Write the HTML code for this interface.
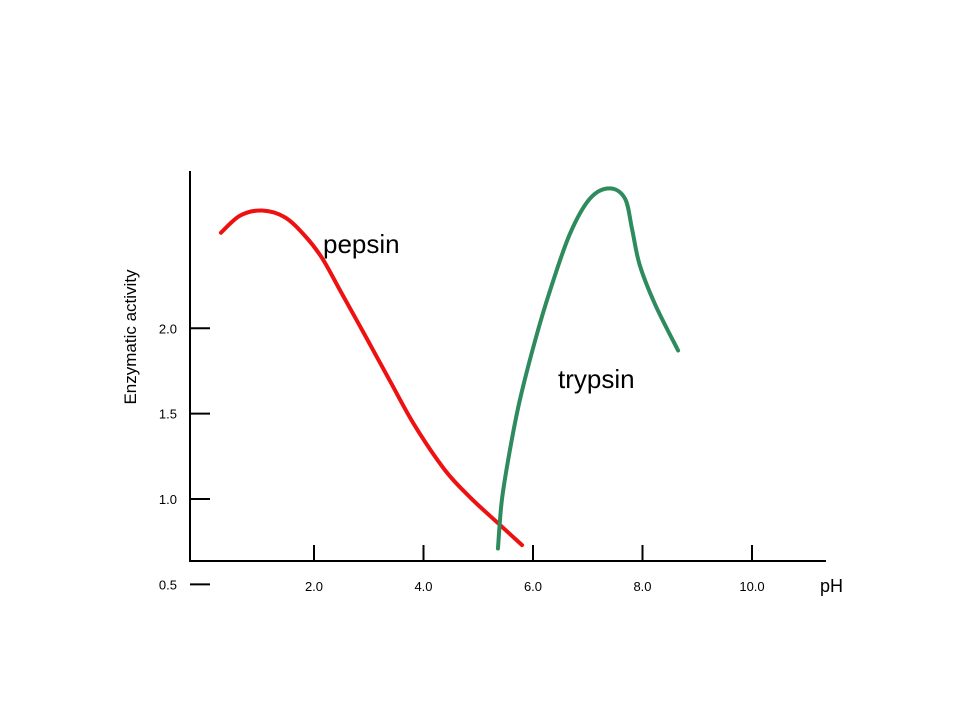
<!DOCTYPE html>
<html><head><meta charset="utf-8"><style>
html,body{margin:0;padding:0;background:#fff;}
svg{display:block;font-family:"Liberation Sans",Arial,sans-serif;}
</style></head><body>
<svg id="chart" width="960" height="720">
<g id="axes"></g>
<g id="series"></g>
<text x="323" y="253" font-size="26">pepsin</text>
<text x="558" y="388" font-size="26">trypsin</text>
<text x="0" y="0" font-size="17" text-anchor="middle" transform="translate(136,337) rotate(-90)">Enzymatic activity</text>
<text x="820" y="592" font-size="18">pH</text>
</svg>
<script>
const xTicks=[2,4,6,8,10];
const xTickLabels=["2.0","4.0","6.0","8.0","10.0"];
const yTicks=[0.5,1.0,1.5,2.0];
const yTickLabels=["0.5","1.0","1.5","2.0"];
const pepsinX=[0.30,0.65,1.05,1.47,1.84,2.15,2.48,2.93,3.39,3.84,4.39,4.85,5.39,5.80];
const pepsinY=[2.56,2.66,2.69,2.65,2.54,2.41,2.22,1.96,1.69,1.43,1.17,1.01,0.85,0.73];
const trypsinX=[5.36,5.43,5.58,5.76,6.04,6.31,6.67,7.04,7.40,7.68,7.81,7.95,8.23,8.65];
const trypsinY=[0.71,0.99,1.29,1.58,1.93,2.22,2.55,2.76,2.82,2.76,2.58,2.37,2.14,1.87];
const NS="http://www.w3.org/2000/svg";
function sx(v){return 204.5+54.75*v;}
function sy(v){return 669.7-170.7*v;}
function mk(tag,attrs,parent){const e=document.createElementNS(NS,tag);for(const k in attrs)e.setAttribute(k,attrs[k]);parent.appendChild(e);return e;}
const axes=document.getElementById('axes');
let a=mk('line',{x1:190,y1:171,x2:190,y2:562,stroke:'#000','stroke-width':2},axes);


a=mk('line',{x1:189,y1:561,x2:826,y2:561,stroke:'#000','stroke-width':2},axes);


xTicks.forEach((t,i)=>{
 const x=sx(t);
 const l=mk('line',{x1:x,y1:545,x2:x,y2:561,stroke:'#000','stroke-width':2},axes);
 
 
 const tx=mk('text',{x:x,y:591,'font-size':13,'text-anchor':'middle'},axes);
 tx.textContent=xTickLabels[i];
 
 
});
yTicks.forEach((t,i)=>{
 const y=sy(t);
 const l=mk('line',{x1:190,y1:y,x2:210,y2:y,stroke:'#000','stroke-width':2},axes);
 
 
 const tx=mk('text',{x:177,y:y+5,'font-size':13,'text-anchor':'end'},axes);
 tx.textContent=yTickLabels[i];
 
 
});
function smooth(xs,ys){
 const p=xs.map((v,i)=>[sx(v),sy(ys[i])]);
 let d='M'+p[0][0]+','+p[0][1];
 for(let i=0;i<p.length-1;i++){
  const p0=p[Math.max(0,i-1)],p1=p[i],p2=p[i+1],p3=p[Math.min(p.length-1,i+2)];
  const c1=[p1[0]+(p2[0]-p0[0])/6,p1[1]+(p2[1]-p0[1])/6];
  const c2=[p2[0]-(p3[0]-p1[0])/6,p2[1]-(p3[1]-p1[1])/6];
  d+=' C'+c1+' '+c2+' '+p2;
 }
 return d;
}
const series=document.getElementById('series');
let s=mk('path',{d:smooth(pepsinX,pepsinY),fill:'none',stroke:'#ee1111','stroke-width':4,'stroke-linecap':'round'},series);


s=mk('path',{d:smooth(trypsinX,trypsinY),fill:'none',stroke:'#2e8b5e','stroke-width':4,'stroke-linecap':'round'},series);


</script>
</body></html>
